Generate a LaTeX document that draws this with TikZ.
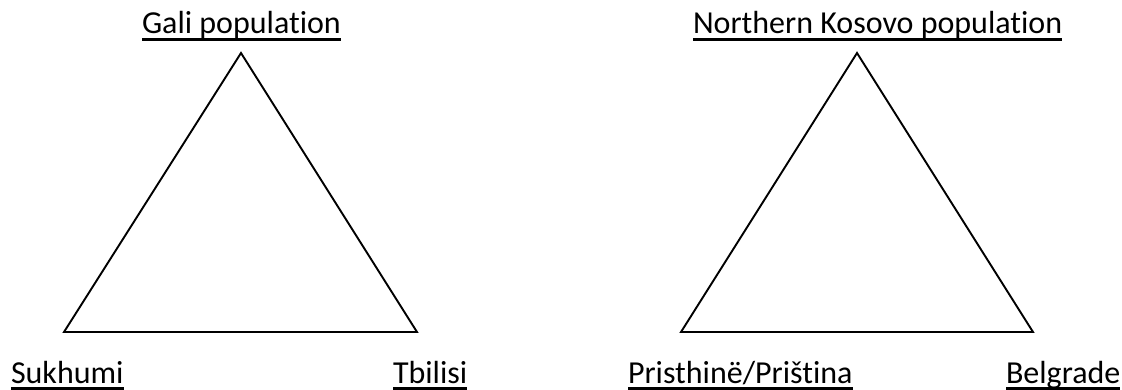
\documentclass[tikz,border=0pt]{standalone}
\usepackage{fontspec}
\setmainfont{Carlito}[RawFeature={-liga;-clig;-dlig}]
\begin{document}
\begin{tikzpicture}[x=1pt,y=-1pt,
  label text/.style={anchor=base west,inner sep=0pt,outer sep=0pt,
    font=\fontsize{32}{38}\selectfont},
  uline/.style={line width=2.4pt},
  tri/.style={line width=1.9pt,line join=miter}]
\useasboundingbox (0,0) rectangle (1122,390);

% first triangle
\coordinate (gtop) at (241,53);
\coordinate (gleft) at (64,332);
\coordinate (gright) at (417,332);
\draw[tri] (gtop) -- (gleft) -- (gright) -- cycle;

% second triangle
\coordinate (ktop) at (857,53);
\coordinate (kleft) at (681,332);
\coordinate (kright) at (1033,332);
\draw[tri] (ktop) -- (kleft) -- (kright) -- cycle;

% labels
\node[label text] (gali) at (142,34) {Gali population};
\node[label text] (sukh) at (11,383) {Sukhumi};
\node[label text] (tbil) at (393,383) {Tbilisi};
\node[label text] (nkos) at (693,34) {Northern Kosovo population};
\node[label text] (pris) at (628,383) {Pristhinë/Priština};
\node[label text] (belg) at (1006,383) {Belgrade};

% underlines
\foreach \n in {gali,sukh,tbil,nkos,pris,belg}
  \draw[uline] ([yshift=-5.5pt]\n.base west) -- ([yshift=-5.5pt]\n.base east);
\end{tikzpicture}
\end{document}
